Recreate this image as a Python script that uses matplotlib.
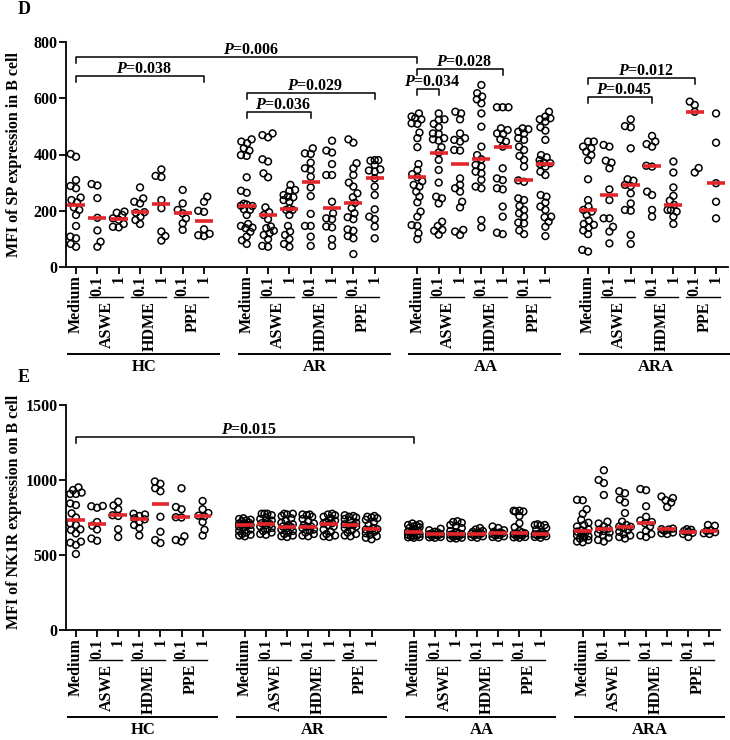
import numpy as np
import matplotlib.pyplot as plt
from matplotlib.transforms import blended_transform_factory

plt.rcParams['font.family'] = 'Liberation Serif'
plt.rcParams['font.weight'] = 'bold'
plt.rcParams['mathtext.fontset'] = 'custom'
plt.rcParams['mathtext.bfit'] = 'Liberation Serif:italic:bold'

groups = ['HC', 'AR', 'AA', 'ARA']
treatments = ['ASWE', 'HDME', 'PPE']
tick_labels = ['Medium', '0.1', '1', '0.1', '1', '0.1', '1']

# panel D: MFI of SP, per group: Medium, ASWE 0.1/1, HDME 0.1/1, PPE 0.1/1
sp_hc = [[402, 392, 309, 288, 280, 247, 238, 230, 212, 203, 185, 146, 108, 102, 82, 72],
         [295, 290, 245, 175, 130, 90, 72],
         [197, 193, 185, 173, 168, 153, 143, 141],
         [283, 244, 232, 226, 195, 193, 179, 167, 153],
         [347, 324, 320, 238, 209, 126, 110, 94],
         [274, 226, 203, 191, 173, 155, 132],
         [250, 232, 200, 196, 134, 118, 113, 110]]
sp_ar = [[454, 446, 440, 422, 414, 398, 395, 319, 271, 264, 225, 222, 218, 217, 205, 203, 185, 153, 146, 140, 138, 125, 108, 95, 82],
         [475, 469, 461, 383, 375, 333, 319, 212, 195, 185, 170, 144, 138, 129, 120, 114, 99, 75, 72],
         [292, 274, 271, 256, 250, 248, 238, 232, 208, 203, 203, 185, 146, 126, 114, 99, 82, 72],
         [422, 404, 402, 371, 351, 345, 321, 283, 252, 189, 146, 146, 108, 75],
         [449, 414, 407, 366, 327, 327, 232, 191, 173, 170, 144, 141, 99, 75],
         [454, 442, 369, 351, 327, 300, 286, 262, 248, 228, 210, 191, 177, 170, 134, 129, 110, 102, 46],
         [380, 380, 378, 363, 347, 343, 339, 315, 286, 256, 205, 179, 170, 144, 102]]
sp_aa = [[546, 535, 529, 525, 511, 509, 478, 458, 426, 366, 345, 330, 319, 305, 292, 286, 268, 250, 230, 197, 179, 149, 146, 120, 99],
         [546, 525, 523, 509, 497, 475, 473, 458, 454, 449, 426, 407, 381, 345, 300, 250, 244, 226, 161, 146, 132, 129, 115],
         [552, 546, 525, 475, 458, 452, 446, 416, 414, 315, 292, 280, 268, 232, 212, 132, 126, 114],
         [647, 618, 606, 596, 582, 546, 499, 428, 398, 383, 363, 357, 339, 333, 310, 286, 280, 167, 141],
         [568, 568, 568, 493, 487, 475, 473, 454, 446, 428, 351, 315, 309, 280, 276, 215, 179, 122, 117],
         [493, 490, 481, 475, 458, 452, 428, 416, 395, 381, 357, 308, 303, 244, 238, 217, 203, 191, 179, 158, 155, 130, 117],
         [552, 535, 529, 525, 517, 497, 485, 452, 398, 390, 380, 371, 369, 366, 357, 339, 327, 256, 250, 229, 215, 203, 179, 177, 161, 143, 110]]
sp_ara = [[446, 446, 428, 422, 410, 398, 380, 312, 238, 215, 203, 197, 185, 165, 153, 150, 140, 130, 117, 61, 55],
          [434, 428, 378, 371, 351, 276, 238, 173, 173, 143, 126, 84],
          [525, 501, 497, 422, 312, 307, 292, 288, 262, 226, 203, 200, 114, 82],
          [466, 446, 437, 428, 360, 357, 268, 256, 203, 179],
          [375, 336, 283, 253, 236, 221, 203, 203, 197, 179, 153],
          [588, 576, 552, 352, 336],
          [546, 442, 298, 232, 173]]

# panel E: MFI of NK1R
nk_hc = [[951, 933, 916, 907, 907, 844, 833, 778, 750, 711, 700, 671, 667, 644, 589, 582, 567, 507],
         [827, 825, 815, 720, 695, 670, 610, 595],
         [855, 830, 805, 765, 760, 672, 620],
         [775, 770, 760, 745, 738, 720, 700, 680, 630],
         [990, 975, 945, 925, 755, 655, 600, 580],
         [945, 820, 805, 752, 750, 625, 600, 590],
         [860, 805, 780, 762, 758, 720, 668, 630]]
nk_ar = [[745, 740, 735, 730, 725, 715, 710, 705, 700, 700, 698, 690, 680, 670, 660, 650, 640, 635, 630, 625],
         [775, 775, 775, 765, 750, 740, 730, 720, 712, 705, 700, 690, 680, 670, 660, 650, 640, 635],
         [775, 775, 770, 760, 745, 730, 715, 705, 700, 690, 685, 680, 670, 660, 650, 640, 630, 625, 620],
         [770, 770, 765, 755, 740, 725, 710, 700, 690, 688, 680, 670, 660, 650, 640, 630, 625],
         [775, 770, 765, 755, 745, 730, 720, 712, 710, 700, 690, 670, 655, 640, 630, 625, 620],
         [765, 760, 755, 750, 740, 730, 715, 705, 700, 695, 690, 680, 665, 650, 640, 630, 625],
         [760, 755, 750, 745, 735, 720, 700, 680, 672, 670, 665, 655, 645, 635, 625, 615, 605]]
nk_aa = [[710, 705, 700, 695, 690, 685, 680, 670, 665, 660, 656, 650, 645, 640, 635, 630, 628, 625, 620, 618, 615],
         [675, 665, 655, 650, 645, 640, 638, 635, 630, 625, 620, 618, 615],
         [725, 720, 715, 700, 695, 680, 660, 650, 645, 640, 638, 635, 630, 625, 620, 615, 612, 610],
         [680, 670, 660, 655, 650, 645, 643, 640, 635, 630, 625, 620, 615],
         [690, 680, 665, 655, 650, 645, 644, 640, 635, 630, 625, 620, 615],
         [795, 795, 790, 790, 760, 712, 685, 660, 650, 645, 644, 640, 635, 630, 625, 620, 618, 615],
         [705, 700, 700, 695, 680, 670, 655, 642, 640, 638, 635, 630, 625, 620, 615]]
nk_ara = [[868, 865, 805, 775, 735, 715, 700, 690, 672, 665, 656, 650, 640, 630, 625, 618, 610, 600, 590, 585],
          [1065, 1000, 980, 900, 722, 710, 690, 675, 670, 660, 650, 645, 630, 615, 600, 590],
          [925, 912, 870, 850, 780, 722, 700, 690, 688, 680, 665, 655, 640, 630, 620, 610],
          [940, 932, 825, 755, 730, 720, 712, 690, 660, 640, 630, 620],
          [890, 880, 865, 850, 820, 676, 672, 670, 660, 650, 645, 640],
          [672, 668, 660, 655, 648, 640, 620],
          [700, 695, 665, 660, 652, 645, 640]]

# significance brackets: (left column, right column, height, label)
sp_brackets = [(0, 16, 748, 'P=0.006'), (0, 6, 679, 'P=0.038'),
               (8, 14, 617, 'P=0.029'), (8, 11, 551, 'P=0.036'),
               (16, 20, 703, 'P=0.028'), (16, 17, 632, 'P=0.034'),
               (24, 29, 671, 'P=0.012'), (24, 27, 606, 'P=0.045')]
nk_brackets = [(0, 16, 1289, 'P=0.015')]

RED = '#e3262b'
FS = 11.5


def swarm(vals, ypx, xpx, d=6.0, maxw=0.27):
    vals = np.asarray(vals, float)
    placed = []
    xs = np.zeros(len(vals))
    lim = maxw * xpx
    for i in np.argsort(vals):
        y = vals[i] * ypx
        cands = [0.0]
        for px, py in placed:
            dy = abs(py - y)
            if dy < d:
                dx = np.sqrt(d ** 2 - dy ** 2)
                cands += [px - dx, px + dx]
        best = None
        for c in sorted(set(cands), key=abs):
            if abs(c) > lim:
                continue
            if all((c - px) ** 2 + (y - py) ** 2 >= d ** 2 - 1e-6 for px, py in placed):
                best = c
                break
        if best is None:
            grid = np.linspace(-lim, lim, 9)
            mind = [min((g - px) ** 2 + (y - py) ** 2 for px, py in placed) for g in grid]
            best = grid[int(np.argmax(mind))]
        placed.append((best, y))
        xs[i] = best / xpx
    return xs


def panel(ax, data, ymax, yticks, ylabel, brackets, xmax, ylab_y):
    ax.set_xlim(-0.47, xmax)
    ax.set_ylim(0, ymax)
    fig.canvas.draw()
    bb = ax.get_window_extent()
    xpx = bb.width / (xmax + 0.47)
    ypx = bb.height / ymax
    for g, cols in enumerate(data):
        for k, vals in enumerate(cols):
            pos = g * 8 + k
            xs = swarm(vals, ypx, xpx)
            ax.scatter(pos + xs, vals, s=24, facecolors='none', edgecolors='black',
                       linewidths=1.1, zorder=2, clip_on=False)
            ax.hlines(np.median(vals), pos - 0.42, pos + 0.42, color=RED, lw=2.6, zorder=3)

    ax.spines['top'].set_visible(False)
    ax.spines['right'].set_visible(False)
    for s in ('left', 'bottom'):
        ax.spines[s].set_linewidth(1.3)
    ax.set_yticks(yticks)
    ax.set_yticklabels([str(t) for t in yticks], fontsize=FS, fontweight='bold')
    positions = [g * 8 + k for g in range(4) for k in range(7)]
    ax.set_xticks(positions)
    ax.set_xticklabels(tick_labels * 4, rotation=90, fontsize=FS, fontweight='bold')
    ax.tick_params(axis='both', length=5, width=1.3, pad=1)
    ax.set_ylabel(ylabel, fontsize=FS, fontweight='bold')
    ax.yaxis.set_label_coords(-44 / bb.width, ylab_y)

    h = bb.height
    trans = blended_transform_factory(ax.transData, ax.transAxes)
    for g, name in enumerate(groups):
        base = g * 8
        for k, tname in enumerate(treatments):
            a = base + 1 + 2 * k
            ax.plot([a - 0.4, a + 1.2], [-30 / h] * 2, transform=trans, clip_on=False,
                    color='black', lw=1.0)
            ax.text(a + 0.45, -34 / h, tname, rotation=90, ha='center', va='top',
                    transform=trans, fontsize=FS, fontweight='bold')
        ax.plot([base - 0.38, base + 6.7], [-87 / h] * 2, transform=trans, clip_on=False,
                color='black', lw=1.4)
        ax.text(base + 3.2, -100 / h, name, ha='center', va='center', transform=trans,
                fontsize=12, fontweight='bold')

    leg = 6 / ypx
    for x0, x1, yb, lab in brackets:
        ax.plot([x0, x0, x1, x1], [yb - leg, yb, yb, yb - leg], color='black', lw=1.1,
                clip_on=False)
        txt = '$\\mathbfit{P}$' + lab[1:]
        ax.text((x0 + x1) / 2 + 0.2, yb + 3 / ypx, txt, ha='center', va='baseline',
                fontsize=FS, fontweight='bold')


fig = plt.figure(figsize=(7.3, 7.4), dpi=100)
ax1 = fig.add_axes([66 / 730, 1 - 267 / 740, 662 / 730, 225 / 740])
ax2 = fig.add_axes([66 / 730, 1 - 630 / 740, 654 / 730, 225 / 740])

panel(ax1, [sp_hc, sp_ar, sp_aa, sp_ara], 800, [0, 200, 400, 600, 800],
      'MFI of SP expression in B cell', sp_brackets, 30.56, 0.5)
panel(ax2, [nk_hc, nk_ar, nk_aa, nk_ara], 1500, [0, 500, 1000, 1500],
      'MFI of NK1R expression on B cell', nk_brackets, 30.5, 0.527)

fig.text(18 / 730, 1 - 10 / 740, 'D', ha='left', va='center', fontsize=13, fontweight='bold')
fig.text(18 / 730, 1 - 377 / 740, 'E', ha='left', va='center', fontsize=13, fontweight='bold')

fig.savefig('out.png', dpi=100)
